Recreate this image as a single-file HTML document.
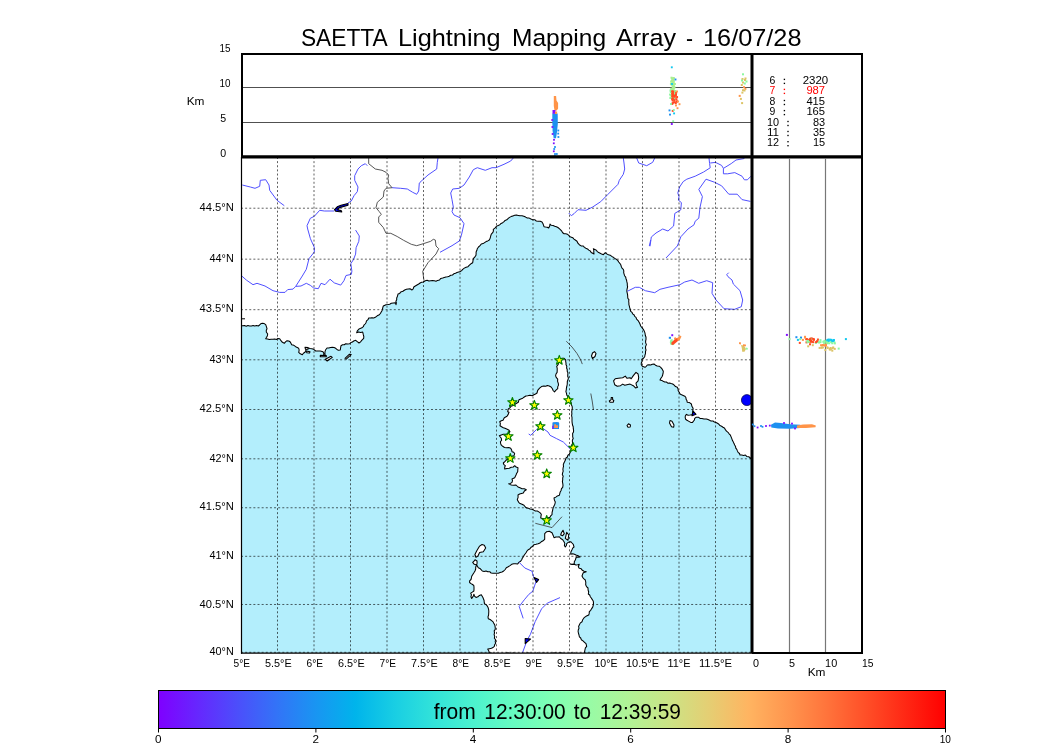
<!DOCTYPE html><html><head><meta charset="utf-8"><style>
html,body{margin:0;padding:0;background:#fff;}
body{width:1050px;height:750px;overflow:hidden;position:relative;font-family:"Liberation Sans",sans-serif;color:#000;}
svg{position:absolute;left:0;top:0;will-change:transform;}
text{font-family:"Liberation Sans",sans-serif;}
</style></head><body>
<svg width="1050" height="750" viewBox="0 0 1050 750">
<defs>
<clipPath id="mapclip"><rect x="241" y="157" width="511" height="496"/></clipPath>
<linearGradient id="cbar" x1="0" x2="1" y1="0" y2="0">
<stop offset="0.000" stop-color="#7f00ff"/>
<stop offset="0.050" stop-color="#6627fe"/>
<stop offset="0.100" stop-color="#4c4efb"/>
<stop offset="0.150" stop-color="#3373f7"/>
<stop offset="0.200" stop-color="#1995f2"/>
<stop offset="0.250" stop-color="#00b4eb"/>
<stop offset="0.300" stop-color="#19cee3"/>
<stop offset="0.350" stop-color="#32e3d9"/>
<stop offset="0.400" stop-color="#4cf2ce"/>
<stop offset="0.450" stop-color="#66fbc1"/>
<stop offset="0.500" stop-color="#7fffb4"/>
<stop offset="0.550" stop-color="#99fba5"/>
<stop offset="0.600" stop-color="#b2f295"/>
<stop offset="0.650" stop-color="#cce385"/>
<stop offset="0.700" stop-color="#e5ce73"/>
<stop offset="0.750" stop-color="#ffb461"/>
<stop offset="0.800" stop-color="#ff954e"/>
<stop offset="0.850" stop-color="#ff733b"/>
<stop offset="0.900" stop-color="#ff4e27"/>
<stop offset="0.950" stop-color="#ff2714"/>
<stop offset="1.000" stop-color="#ff0000"/>
</linearGradient></defs>
<g clip-path="url(#mapclip)">
<rect x="241" y="157" width="511" height="496" fill="#b3eefc"/>
<polygon points="241.0,326.0 242.7,325.8 244.5,325.6 246.2,326.2 247.9,325.5 249.7,326.0 251.4,325.9 253.1,325.5 254.8,326.0 256.6,325.5 258.3,326.0 259.6,325.0 260.7,323.8 262.3,323.3 264.2,323.6 265.7,324.7 266.4,326.7 267.0,328.7 266.3,330.3 266.3,332.0 267.7,334.0 267.4,335.7 266.6,337.3 265.7,338.7 267.5,339.0 269.3,339.5 271.2,339.2 273.0,339.3 274.7,339.0 276.4,339.5 278.0,338.4 279.7,338.7 281.0,340.7 282.4,342.3 284.3,343.3 285.5,341.8 287.0,340.7 288.8,341.0 290.3,342.0 291.7,344.7 293.9,345.3 295.7,346.7 298.3,348.0 299.0,349.0 299.1,350.7 298.7,352.3 300.3,353.8 302.3,354.7 303.4,353.2 305.0,352.3 305.7,350.7 306.3,349.0 308.3,348.0 310.1,348.6 311.9,348.7 313.7,349.3 315.7,351.0 318.0,351.1 320.3,351.0 323.0,351.7 323.8,353.3 323.7,355.0 325.7,356.3 324.9,354.1 325.0,351.7 325.7,349.7 327.0,348.0 328.8,348.0 330.5,347.5 332.3,347.3 334.1,347.6 335.7,348.3 336.9,349.4 338.3,350.3 340.3,350.0 340.6,347.8 341.0,345.7 342.5,344.8 344.3,344.7 345.7,343.7 347.7,343.9 349.7,343.7 350.9,342.6 352.4,342.0 353.7,341.0 355.7,340.3 357.3,341.7 359.0,343.0 360.6,341.9 361.7,340.3 363.7,338.3 363.8,336.5 363.3,334.7 362.7,332.0 360.7,332.5 358.6,331.9 356.7,332.7 357.3,330.8 358.7,329.3 360.2,328.4 361.9,327.8 363.3,326.7 363.9,325.2 365.1,324.0 366.0,322.7 366.5,320.9 368.0,319.7 368.7,318.0 370.4,318.1 372.0,317.7 373.7,317.9 375.3,317.3 377.2,315.8 379.3,314.7 380.4,313.5 381.2,312.1 382.0,310.7 382.5,309.2 382.8,307.6 383.3,306.0 386.0,304.7 387.9,304.6 389.7,304.2 391.3,303.3 393.3,303.0 395.3,302.7 396.0,304.7 396.4,303.0 395.9,301.3 396.7,299.7 396.7,298.0 397.5,296.1 398.0,294.0 399.7,293.4 400.7,292.0 402.9,291.3 404.7,290.0 406.4,289.3 408.2,289.0 410.0,288.7 412.0,290.0 413.2,288.8 413.8,287.0 415.3,286.0 417.0,285.0 418.7,284.0 420.1,283.0 421.6,282.3 423.3,282.0 425.3,280.7 427.1,280.2 428.9,281.0 430.7,280.7 432.5,280.5 434.3,280.8 436.0,281.3 437.6,280.4 439.5,280.0 440.8,278.4 442.7,278.0 444.3,277.4 445.9,277.0 447.6,276.8 449.2,276.2 450.7,275.3 452.5,275.0 453.8,273.8 455.5,273.2 457.0,272.5 458.7,272.0 460.3,271.5 461.6,270.6 462.7,269.3 464.3,268.1 466.1,267.2 468.0,266.7 469.4,265.1 470.9,263.8 472.7,262.7 473.0,260.7 473.3,258.7 474.7,257.1 476.0,255.3 476.1,253.6 476.1,251.9 476.9,250.3 477.3,248.7 478.5,247.0 480.0,245.6 481.3,244.0 483.1,243.6 484.6,242.6 486.1,241.6 487.8,240.9 489.3,240.0 490.2,238.1 490.7,236.0 491.3,234.1 492.7,232.7 493.4,231.1 493.3,229.3 495.2,227.9 496.7,226.0 498.4,225.5 499.9,224.6 501.1,223.4 502.7,222.7 504.0,221.6 505.1,220.4 506.8,219.8 508.0,218.7 509.5,217.4 511.1,216.6 512.9,215.9 514.7,215.3 516.5,215.1 518.2,215.4 520.0,215.7 522.0,215.8 523.8,216.3 525.6,217.1 527.3,218.0 529.2,218.1 530.9,219.0 532.7,219.7 534.7,219.7 536.3,221.0 538.2,221.2 540.2,221.2 542.0,222.0 542.9,223.5 543.5,225.1 544.0,226.7 545.6,227.0 547.2,227.2 548.7,228.0 549.7,226.1 550.0,224.0 551.3,225.3 553.1,225.5 554.7,226.3 556.4,226.7 557.9,227.5 559.3,228.7 560.6,229.9 561.8,231.2 562.7,232.7 564.1,233.7 565.8,233.7 567.4,234.2 568.7,235.3 569.7,236.6 571.3,237.2 572.9,237.8 574.0,239.1 575.3,240.0 577.0,241.2 577.9,243.2 579.3,244.7 581.1,245.9 583.3,246.0 584.4,247.4 585.9,248.3 587.5,248.9 588.8,250.1 590.2,250.9 591.2,252.5 592.7,253.3 594.0,254.0 593.8,252.2 593.8,250.4 593.3,248.7 594.8,249.4 596.3,250.2 597.4,251.6 598.7,252.6 600.2,253.3 601.7,254.1 603.3,254.7 605.3,252.7 606.7,253.9 608.4,254.8 610.2,255.2 611.7,256.4 613.3,257.3 614.8,258.4 616.3,259.3 617.7,260.4 618.7,262.0 619.8,263.3 620.8,264.8 621.3,266.5 622.0,268.1 623.3,269.3 623.8,270.9 623.7,272.6 624.1,274.1 624.6,275.7 625.7,277.1 626.0,278.7 626.6,280.3 626.9,281.9 627.3,283.6 627.3,285.3 627.6,286.9 627.2,288.5 626.9,290.1 626.9,291.7 627.3,293.3 627.6,294.9 627.7,296.5 627.8,298.2 628.9,299.6 628.7,301.3 628.9,303.0 628.9,304.7 629.4,306.4 629.8,308.0 630.4,309.6 630.7,311.3 632.0,312.3 632.6,313.9 634.0,314.8 634.7,316.3 636.0,317.3 636.6,319.2 638.1,320.6 639.1,322.3 640.0,324.0 640.7,326.0 642.0,327.7 643.3,329.3 644.3,331.2 645.0,333.2 645.3,335.3 646.0,337.2 646.0,339.3 645.6,341.1 645.7,342.9 646.4,344.6 645.6,346.4 645.5,348.2 646.0,350.0 645.5,351.6 645.5,353.4 645.0,355.0 644.7,356.7 643.5,358.3 641.8,359.3 642.1,361.2 641.3,363.0 641.3,364.8 642.3,366.3 645.0,367.3 646.3,366.3 647.3,365.0 649.0,364.8 650.7,365.0 652.3,364.2 654.0,364.0 655.5,365.2 657.2,366.0 659.2,366.2 660.7,367.3 662.2,369.2 663.3,371.3 663.1,373.2 662.7,375.0 662.0,376.7 660.9,378.3 660.0,380.0 661.7,380.4 663.2,381.3 664.7,382.0 666.4,382.0 667.8,383.2 669.5,383.0 671.1,383.6 672.7,384.0 674.2,385.2 675.5,386.6 677.3,387.3 678.1,388.9 678.2,390.8 679.3,392.3 680.0,394.0 681.6,394.8 683.2,395.5 684.8,396.2 685.9,397.5 686.1,399.2 686.9,400.6 687.2,402.2 689.5,402.6 691.4,404.0 691.9,406.3 693.1,408.3 692.8,410.9 692.8,412.9 692.0,414.7 690.0,415.0 688.0,415.2 686.4,414.4 685.3,416.0 685.2,417.6 685.6,419.2 687.0,420.2 688.5,421.1 690.7,422.4 692.5,422.4 694.4,420.0 694.7,418.4 696.0,417.3 698.7,417.3 700.0,418.4 702.0,418.5 704.0,419.0 706.4,419.0 708.0,419.6 709.6,420.3 711.1,421.1 713.0,421.0 714.4,422.1 716.0,422.6 717.5,423.3 718.9,424.2 720.0,425.6 721.6,426.2 723.0,427.2 724.4,428.0 725.4,429.6 726.5,431.2 728.0,432.3 729.1,433.8 730.4,435.2 731.1,436.9 731.8,438.6 732.4,440.3 733.3,441.9 734.0,443.6 734.7,445.0 735.5,446.4 735.8,448.1 736.8,449.4 737.4,450.9 738.1,452.4 739.5,453.5 740.0,455.0 741.8,455.1 743.6,455.5 745.4,455.0 746.7,456.4 748.7,456.8 750.2,457.8 751.5,459.2 752.0,157.0 241.0,157.0" fill="#fff" stroke="#000" stroke-width="1.05" stroke-linejoin="round"/>
<polygon points="559.0,358.5 559.0,360.3 558.8,362.0 558.2,364.4 556.7,366.3 557.2,368.4 557.2,370.5 557.1,372.4 556.0,374.0 555.6,375.9 556.4,377.7 557.7,379.1 557.6,381.3 558.3,383.3 558.5,385.1 557.7,386.9 557.7,388.7 556.0,390.2 554.5,391.9 553.1,390.5 552.4,388.7 551.1,387.0 549.2,386.0 547.4,385.5 545.7,386.3 543.9,386.0 541.5,386.6 539.6,388.1 537.7,390.3 537.0,393.0 535.5,394.0 533.9,394.8 532.3,395.7 530.0,395.2 527.7,395.7 525.9,396.0 524.3,397.0 522.7,398.2 520.8,398.9 519.0,399.7 518.3,402.3 516.6,403.3 515.0,404.3 513.1,405.5 511.0,406.3 509.9,407.9 508.3,409.0 507.7,411.7 509.0,412.3 508.2,414.4 507.0,416.3 504.3,417.7 503.0,420.3 501.3,420.8 499.7,421.7 500.4,423.7 500.0,425.7 501.6,426.8 503.3,427.7 505.0,428.3 506.7,429.0 508.7,429.9 510.0,431.7 508.0,433.7 505.7,434.2 503.3,434.3 501.3,434.9 499.3,435.7 500.3,437.0 501.3,438.3 501.6,440.2 500.4,441.8 500.7,443.7 501.4,445.2 502.7,446.3 504.5,447.5 506.7,447.7 508.8,447.6 510.7,448.3 511.6,449.9 512.0,451.7 513.7,452.3 514.7,453.7 514.0,455.7 512.2,456.1 510.7,457.0 509.5,458.1 508.3,459.1 506.7,459.7 505.1,461.4 503.3,463.0 503.9,464.6 505.3,465.7 504.7,467.3 504.7,469.0 507.0,468.4 509.3,468.3 511.2,467.3 513.3,467.0 514.7,465.7 516.1,467.1 518.0,467.7 517.8,469.7 517.7,471.7 516.7,473.2 516.0,475.0 514.7,477.7 512.0,479.0 512.5,480.6 512.0,482.3 510.5,483.4 508.7,483.7 511.3,485.0 513.6,485.2 516.0,485.0 518.0,487.0 520.0,487.8 522.0,488.7 524.3,488.7 526.3,489.7 524.4,491.0 523.3,493.0 521.5,493.5 519.6,494.0 518.0,495.0 518.1,497.4 517.3,499.7 518.7,502.3 520.1,503.6 522.0,504.3 524.0,505.3 525.3,507.0 526.7,508.0 528.5,508.3 530.0,509.0 531.9,509.3 533.6,510.1 535.4,511.0 537.3,511.0 538.8,511.9 540.2,512.9 541.3,514.3 541.0,516.1 540.7,518.0 542.6,518.4 544.4,518.9 546.0,520.0 547.1,518.8 548.4,517.8 550.0,517.3 550.7,515.8 552.0,514.7 552.1,512.3 552.7,510.0 553.1,507.9 554.0,506.0 554.9,504.1 555.3,502.0 554.4,500.1 554.0,498.0 555.8,497.1 557.4,495.9 559.3,495.3 559.8,493.6 560.2,491.9 561.1,490.4 561.5,488.7 562.7,487.3 563.0,485.4 562.8,483.6 562.4,481.7 562.7,479.9 562.7,478.0 563.2,476.2 562.3,474.5 562.7,472.7 563.2,471.1 562.9,469.5 563.1,467.9 563.5,466.3 563.3,464.7 563.9,463.0 564.7,461.4 565.5,459.8 566.0,458.0 567.4,457.0 567.9,455.2 569.3,454.2 570.0,452.7 570.7,451.2 571.0,449.6 571.2,448.0 571.6,446.4 571.8,444.7 572.7,443.3 572.4,441.7 572.4,440.0 573.2,438.4 572.7,436.8 572.7,435.2 572.6,433.5 573.5,432.0 573.6,430.3 573.3,428.7 573.2,426.8 572.5,425.0 572.2,423.1 572.0,421.2 572.0,419.3 572.0,417.4 571.6,415.6 571.9,413.7 571.7,411.9 572.0,410.0 572.3,408.3 572.2,406.6 571.5,405.0 571.3,403.3 570.6,401.4 570.5,399.3 569.7,397.6 567.9,396.6 566.8,395.1 566.5,393.3 565.9,391.6 566.3,389.7 566.4,388.1 566.8,386.5 567.1,384.9 567.3,383.3 567.3,381.5 568.0,379.8 568.4,378.0 567.7,376.3 567.8,374.5 567.9,372.7 567.2,371.2 567.2,369.5 566.6,368.0 566.8,366.3 566.0,364.8 566.0,363.1 565.7,361.5 565.7,359.9 564.1,358.3 562.4,358.3 560.7,358.4" fill="#fff" stroke="#000" stroke-width="1.05" stroke-linejoin="round"/>
<polygon points="489.3,653.5 489.3,652.9 488.8,650.9 487.7,649.1 489.5,648.7 491.4,648.3 493.1,647.5 494.3,646.3 494.7,644.6 495.7,643.3 495.2,641.6 495.6,639.8 494.4,638.2 494.7,636.4 494.1,634.7 494.5,632.9 494.2,630.9 495.3,629.2 495.2,627.3 494.9,625.3 493.9,623.6 493.1,621.9 491.6,620.6 490.1,619.5 488.3,618.7 488.0,616.8 488.6,615.0 488.7,613.2 488.8,611.3 488.6,609.4 488.1,607.6 487.2,605.9 486.1,604.6 484.5,603.8 484.2,602.2 484.1,600.5 483.5,599.0 482.9,597.4 481.3,594.7 479.4,595.4 477.9,596.8 476.0,597.4 474.5,596.1 473.9,594.2 473.5,595.8 472.6,597.1 471.7,598.5 470.9,596.8 471.4,594.8 470.7,593.1 472.3,592.1 473.9,591.0 474.0,589.2 474.0,587.5 473.9,585.7 472.6,584.5 471.0,583.6 469.6,582.5 469.6,580.8 471.0,579.5 471.4,577.9 471.7,576.3 472.8,574.5 473.9,572.8 475.0,571.0 475.7,569.0 475.7,566.9 476.7,565.0 474.3,564.3 472.7,562.3 474.0,561.2 475.0,559.7 477.0,561.0 477.1,563.0 476.7,565.0 478.3,567.7 479.9,568.4 481.1,569.7 482.3,571.0 484.1,571.4 486.0,571.0 487.8,571.8 489.7,571.7 491.1,573.0 493.0,573.3 494.8,573.3 496.5,573.2 498.3,573.3 500.1,572.5 502.0,572.0 503.7,571.0 505.2,569.5 506.3,567.7 508.2,566.7 510.0,565.6 511.7,564.3 513.7,563.7 515.7,563.7 517.7,564.0 518.8,562.4 520.6,561.3 521.7,559.7 522.4,558.0 523.5,556.6 524.3,555.0 526.0,552.7 527.0,551.0 528.3,549.7 530.0,548.7 531.2,547.2 532.8,546.2 534.0,544.7 536.1,544.3 538.1,543.8 540.0,543.0 541.2,541.8 542.7,541.0 544.7,539.3 544.7,537.4 544.7,535.6 544.7,533.7 546.7,531.7 549.3,531.3 552.0,532.7 552.7,534.2 553.3,535.7 554.0,537.7 555.9,536.9 558.0,537.0 559.3,536.7 560.7,538.5 562.7,539.7 564.0,541.7 564.8,543.4 564.4,545.4 565.3,547.0 566.4,545.5 566.7,543.7 568.5,542.2 570.7,541.7 572.0,543.0 573.3,544.3 574.0,547.0 572.7,548.1 572.0,549.7 570.9,551.9 570.7,554.3 572.7,553.7 574.4,554.3 576.0,555.0 578.1,555.8 580.0,557.0 578.1,557.3 576.3,557.0 575.3,560.0 574.3,561.7 574.3,563.7 572.2,564.2 570.0,564.0 572.0,564.4 574.1,564.3 576.0,565.0 577.7,564.7 579.3,564.3 578.3,566.7 579.2,568.2 581.0,568.6 582.0,570.0 584.0,571.2 586.3,571.7 583.3,572.7 582.6,574.3 582.0,576.0 582.8,577.6 584.0,578.8 585.3,580.0 585.8,582.3 585.7,584.7 586.5,586.6 588.0,588.0 588.1,590.0 588.7,592.0 588.3,594.0 589.7,595.0 590.3,596.7 591.3,598.0 592.3,599.6 593.3,601.3 593.5,603.1 593.3,605.0 592.8,606.9 591.7,608.6 590.7,610.3 589.3,611.7 589.2,613.4 588.7,615.0 586.0,616.3 584.1,617.7 582.7,619.7 582.0,621.8 580.2,623.1 579.3,625.0 578.6,626.5 579.0,628.2 578.3,629.7 578.1,631.5 578.5,633.3 579.0,635.0 579.4,636.8 580.7,638.0 581.3,639.7 583.0,640.9 584.5,642.3 586.0,643.7 586.7,646.3 585.4,647.8 585.0,649.7 584.6,651.6 584.3,653.5 582.7,653.7 581.1,653.6 579.5,653.7 577.9,654.0 576.2,653.9 574.6,653.1 573.0,653.7 571.4,653.0 569.8,653.8 568.2,653.8 566.6,653.5 565.0,653.8 563.4,653.6 561.8,653.0 560.1,653.1 558.5,653.2 556.9,653.4 555.3,653.0 553.7,653.0 552.1,653.4 550.5,653.3 548.9,654.0 547.3,653.2 545.7,653.6 544.0,653.2 542.4,653.3 540.8,653.7 539.2,654.0 537.6,653.0 536.0,653.9 534.4,653.5 532.8,653.7 531.2,653.7 529.6,653.2 527.9,653.0 526.3,653.8 524.7,653.3 523.1,653.7 521.5,653.4 519.9,653.6 518.3,653.9 516.7,653.9 515.1,653.8 513.5,653.1 511.8,653.5 510.2,653.8 508.6,653.1 507.0,653.0 505.4,653.6 503.8,653.9 502.2,653.8 500.6,654.0 499.0,653.7 497.4,653.9 495.7,653.8 494.1,653.8 492.5,653.4 490.9,653.1" fill="#fff" stroke="#000" stroke-width="1.05" stroke-linejoin="round"/>
<polygon points="479.6,546.1 482.0,544.5 484.3,545.2 485.7,548.0 483.3,551.7 479.6,552.6 477.7,556.4 475.9,557.3 474.9,554.5 476.8,550.8" fill="#fff" stroke="#000" stroke-width="1.05" stroke-linejoin="round"/>
<polygon points="613.6,380.9 615.2,378.8 618.4,378.3 622.7,377.7 625.3,376.1 626.9,378.3 630.1,377.7 631.2,378.8 633.3,375.6 636.0,372.4 638.1,374.0 638.7,377.7 638.1,380.9 636.0,383.1 636.5,385.7 637.6,387.3 635.5,387.9 633.3,385.7 630.1,384.1 626.9,384.7 624.8,385.2 622.7,384.1 620.5,385.7 617.3,386.3 614.7,384.7" fill="#fff" stroke="#000" stroke-width="1.05" stroke-linejoin="round"/>
<polygon points="594.5,351.6 596.0,353.5 595.0,356.5 592.5,358.5 591.5,356.0 592.5,353.0" fill="#fff" stroke="#000" stroke-width="1.05" stroke-linejoin="round"/>
<polygon points="611.2,397.5 612.6,397.5 612.6,399.6 613.8,400.5 613.2,402.3 610.0,402.3 609.3,401.0 611.2,399.6" fill="#fff" stroke="#000" stroke-width="1.05" stroke-linejoin="round"/>
<polygon points="628.5,423.8 630.5,425.0 630.2,427.0 628.0,427.3 627.0,425.5" fill="#fff" stroke="#000" stroke-width="1.05" stroke-linejoin="round"/>
<polygon points="670.0,420.5 672.0,421.2 674.0,425.0 673.7,427.3 671.5,426.8 669.5,423.0" fill="#fff" stroke="#000" stroke-width="1.05" stroke-linejoin="round"/>
<polygon points="305.0,347.3 308.0,347.5 308.0,349.3 305.5,349.3" fill="#fff" stroke="#000" stroke-width="1.05" stroke-linejoin="round"/>
<polygon points="306.5,351.0 310.0,351.8 309.5,353.0 306.8,352.8" fill="#fff" stroke="#000" stroke-width="1.05" stroke-linejoin="round"/>
<polygon points="320.3,355.3 326.3,355.5 326.3,356.7 320.3,356.7" fill="#fff" stroke="#000" stroke-width="1.05" stroke-linejoin="round"/>
<polygon points="325.3,359.3 327.2,361.0 332.3,357.3 331.0,356.3" fill="#fff" stroke="#000" stroke-width="1.05" stroke-linejoin="round"/>
<polygon points="345.0,358.3 346.2,359.2 351.2,354.6 349.5,354.2" fill="#fff" stroke="#000" stroke-width="1.05" stroke-linejoin="round"/>
<polygon points="563.0,530.3 564.3,533.7 562.7,535.7 560.7,535.0 561.3,533.0" fill="#fff" stroke="#000" stroke-width="1.05" stroke-linejoin="round"/>
<polygon points="566.7,532.3 568.7,535.0 568.0,540.3 565.3,538.3" fill="#fff" stroke="#000" stroke-width="1.05" stroke-linejoin="round"/>
<polyline points="242.3,185.0 250.3,187.0 255.0,188.3 259.7,186.3 260.3,180.3 265.7,179.7 269.0,185.0 269.7,190.3 277.0,200.3 284.3,205.7" fill="none" stroke="#5050ff" stroke-width="1" stroke-linejoin="round"/>
<polyline points="311.0,240.0 310.3,238.3 307.7,229.0 307.0,225.7 310.3,218.3 314.3,216.3 319.7,210.3 324.3,211.0 334.3,211.0" fill="none" stroke="#5050ff" stroke-width="1" stroke-linejoin="round"/>
<polyline points="348.0,203.0 351.3,201.0 354.0,195.7 357.3,191.7 358.0,187.0 354.7,180.3 354.7,175.7 358.0,169.0 361.3,165.7 365.3,163.7 367.3,165.7" fill="none" stroke="#5050ff" stroke-width="1" stroke-linejoin="round"/>
<polyline points="392.0,187.7 400.7,188.3 407.3,189.0 412.7,192.3 416.7,194.3 418.7,191.0 419.3,183.0 420.0,182.3 428.0,175.0 436.7,169.0 437.3,162.3 438.0,158.0" fill="none" stroke="#5050ff" stroke-width="1" stroke-linejoin="round"/>
<polyline points="355.6,230.1 359.3,236.0 358.8,241.3 356.1,247.7 355.6,254.1 353.5,259.5 350.8,263.7 351.9,271.2 351.3,274.4 346.0,275.5 343.9,280.8 340.7,285.1 334.3,282.9 330.0,279.2 325.0,284.7 321.0,283.3 318.3,288.7 313.7,288.0 310.3,285.3 306.3,283.3 301.0,286.0 295.7,286.4 293.0,289.1 287.7,289.6 285.0,292.4 279.7,292.4 273.0,290.7 265.0,286.0 257.0,283.3 253.0,284.7 246.3,280.0 241.0,275.3" fill="none" stroke="#5050ff" stroke-width="1" stroke-linejoin="round"/>
<polyline points="295.7,286.4 302.3,276.0 306.3,269.3 309.0,258.7 314.3,252.0 314.3,247.3 311.0,240.0" fill="none" stroke="#5050ff" stroke-width="1" stroke-linejoin="round"/>
<polyline points="440.0,252.3 452.0,245.7 459.3,241.0 461.3,235.7 464.0,223.7 460.0,217.7 454.0,215.0 452.0,211.7 453.3,207.0 452.0,199.7 450.7,193.0 452.7,189.0 459.3,188.3 464.0,185.0 469.3,177.0 473.3,169.7 477.3,167.7 485.3,170.3 492.0,167.7 496.0,167.7 504.0,164.3 510.7,161.0 513.3,158.0" fill="none" stroke="#5050ff" stroke-width="1" stroke-linejoin="round"/>
<polyline points="568.7,213.0 571.3,215.7 574.0,213.7 578.0,209.7 586.0,210.3 592.7,207.0 600.7,201.7 608.0,194.3 618.0,184.3 619.3,180.3 623.3,174.3 624.7,169.0 624.0,163.0 623.3,158.0" fill="none" stroke="#5050ff" stroke-width="1" stroke-linejoin="round"/>
<polyline points="636.7,158.0 638.7,163.0 646.7,165.7 652.7,162.3 654.7,158.0" fill="none" stroke="#5050ff" stroke-width="1" stroke-linejoin="round"/>
<polyline points="650.0,246.3 651.3,237.0 656.0,233.0 662.7,229.0 668.0,231.0 673.6,226.0 674.8,213.4 680.8,209.8 681.4,202.6 678.4,200.2 679.0,196.6 677.8,193.0 679.6,187.0 683.2,181.6 686.8,179.2 695.2,176.2 703.6,172.0 710.2,167.8 709.6,163.6 709.0,158.0" fill="none" stroke="#5050ff" stroke-width="1" stroke-linejoin="round"/>
<polyline points="710.2,163.0 715.6,162.4 721.6,165.4 723.4,168.4 723.4,173.8 727.6,173.8 734.8,172.6 742.0,176.2 744.4,179.8 747.4,179.8 751.0,176.2" fill="none" stroke="#5050ff" stroke-width="1" stroke-linejoin="round"/>
<polyline points="723.4,168.4 731.2,163.6 736.0,160.0 744.4,158.5" fill="none" stroke="#5050ff" stroke-width="1" stroke-linejoin="round"/>
<polyline points="680.8,236.8 688.0,229.0 694.0,224.8 695.2,221.2 698.8,218.2 700.0,207.4 702.4,196.6 698.8,189.4 706.0,179.2 714.4,182.2 721.6,185.8 728.8,194.2 737.2,194.2 742.0,199.6 750.4,201.4" fill="none" stroke="#5050ff" stroke-width="1" stroke-linejoin="round"/>
<polyline points="666.0,258.0 677.3,246.0 678.7,242.7 680.8,236.8" fill="none" stroke="#5050ff" stroke-width="1" stroke-linejoin="round"/>
<polyline points="649.3,246.0 650.7,240.0" fill="none" stroke="#5050ff" stroke-width="1" stroke-linejoin="round"/>
<polyline points="627.3,291.3 635.3,287.3 639.3,287.3 645.3,290.7 654.7,292.7 660.0,289.3 668.0,287.3 680.0,284.7 684.7,282.0 692.0,280.0 698.7,283.3 706.7,280.7 712.7,282.7 712.0,293.3 716.0,300.0 724.0,308.7 734.7,309.3 741.3,306.7 742.7,300.0 740.0,290.7 733.3,284.0 732.0,280.0 728.0,276.7 726.7,274.7 728.7,272.7" fill="none" stroke="#5050ff" stroke-width="1" stroke-linejoin="round"/>
<polyline points="528.7,434.0 530.7,435.3 536.7,429.3 543.3,428.7 548.0,432.0 550.0,435.3 556.7,438.7 563.3,442.0 570.0,448.7" fill="none" stroke="#5050ff" stroke-width="1" stroke-linejoin="round"/>
<polyline points="519.2,562.4 524.8,568.0 532.0,571.2 533.6,576.8 536.0,581.6 532.8,591.2 528.8,594.4 524.8,599.2 519.2,606.4 523.2,618.4" fill="none" stroke="#5050ff" stroke-width="1" stroke-linejoin="round"/>
<polyline points="560.0,597.6 547.2,603.2 541.6,608.8 535.2,621.6 530.4,634.4 527.2,640.0 522.4,653.0" fill="none" stroke="#5050ff" stroke-width="1" stroke-linejoin="round"/>
<polyline points="368.7,158.0 368.7,163.7 375.3,169.0 382.0,170.3 386.0,172.3 388.7,175.0 388.0,178.3 388.7,183.7 392.0,187.7 386.0,188.3 384.0,191.0 383.3,197.0 377.3,202.3 376.0,207.7 379.3,211.7 381.3,214.3 378.7,217.0 378.7,222.3 383.3,227.5 386.0,233.3 390.8,233.3 397.2,236.5 403.6,240.3 411.3,244.3 416.7,245.7 423.3,243.7 430.7,241.3 433.3,239.3 435.3,240.0 436.0,246.0 438.7,248.7 436.0,254.0 428.0,262.7 422.7,271.3 424.0,280.7" fill="none" stroke="#444" stroke-width="0.9" stroke-linejoin="round"/>
<polyline points="566.3,341.2 572.0,347.0 577.0,353.5 580.5,359.5 582.3,364.1" fill="none" stroke="#333" stroke-width="0.8"/>
<polyline points="590.8,393.5 592.2,401.0 593.5,410.0" fill="none" stroke="#333" stroke-width="0.8"/>
<polyline points="535.3,523.3 552.0,527.6 562.0,516.7" fill="none" stroke="#333" stroke-width="0.8"/>
<line x1="241" y1="318.8" x2="245" y2="318.8" stroke="#000" stroke-width="1"/>
<polygon points="348,203.5 341,205.2 337.2,206.8 334.5,209.6 335.8,211.3 341.8,212 341.2,210.6 337.5,209.8 339.5,207.6 348,205.3" fill="#0000ee" stroke="#000" stroke-width="1.1" stroke-linejoin="round"/>
<polygon points="693.1,411.2 696.0,414.3 692.0,415.7" fill="#0000ff" stroke="#000" stroke-width="1.1" stroke-linejoin="round"/>
<polygon points="534.1,577.5 538.6,579.6 536.5,582.3" fill="#0000ff" stroke="#000" stroke-width="1.1" stroke-linejoin="round"/>
<polygon points="525.2,638.5 530.5,639.1 525.2,643.6" fill="#0000ff" stroke="#000" stroke-width="1.1" stroke-linejoin="round"/>
<line x1="277.5" y1="157" x2="277.5" y2="653" stroke="#000" stroke-width="1" stroke-dasharray="2,2.13" opacity="0.62"/>
<line x1="314.0" y1="157" x2="314.0" y2="653" stroke="#000" stroke-width="1" stroke-dasharray="2,2.13" opacity="0.62"/>
<line x1="350.5" y1="157" x2="350.5" y2="653" stroke="#000" stroke-width="1" stroke-dasharray="2,2.13" opacity="0.62"/>
<line x1="387.0" y1="157" x2="387.0" y2="653" stroke="#000" stroke-width="1" stroke-dasharray="2,2.13" opacity="0.62"/>
<line x1="423.5" y1="157" x2="423.5" y2="653" stroke="#000" stroke-width="1" stroke-dasharray="2,2.13" opacity="0.62"/>
<line x1="460.0" y1="157" x2="460.0" y2="653" stroke="#000" stroke-width="1" stroke-dasharray="2,2.13" opacity="0.62"/>
<line x1="496.5" y1="157" x2="496.5" y2="653" stroke="#000" stroke-width="1" stroke-dasharray="2,2.13" opacity="0.62"/>
<line x1="533.0" y1="157" x2="533.0" y2="653" stroke="#000" stroke-width="1" stroke-dasharray="2,2.13" opacity="0.62"/>
<line x1="569.5" y1="157" x2="569.5" y2="653" stroke="#000" stroke-width="1" stroke-dasharray="2,2.13" opacity="0.62"/>
<line x1="606.0" y1="157" x2="606.0" y2="653" stroke="#000" stroke-width="1" stroke-dasharray="2,2.13" opacity="0.62"/>
<line x1="642.5" y1="157" x2="642.5" y2="653" stroke="#000" stroke-width="1" stroke-dasharray="2,2.13" opacity="0.62"/>
<line x1="679.0" y1="157" x2="679.0" y2="653" stroke="#000" stroke-width="1" stroke-dasharray="2,2.13" opacity="0.62"/>
<line x1="715.5" y1="157" x2="715.5" y2="653" stroke="#000" stroke-width="1" stroke-dasharray="2,2.13" opacity="0.62"/>
<line x1="241" y1="652.30" x2="752" y2="652.30" stroke="#000" stroke-width="1" stroke-dasharray="2,2.13" opacity="0.62"/>
<line x1="241" y1="604.48" x2="752" y2="604.48" stroke="#000" stroke-width="1" stroke-dasharray="2,2.13" opacity="0.62"/>
<line x1="241" y1="556.30" x2="752" y2="556.30" stroke="#000" stroke-width="1" stroke-dasharray="2,2.13" opacity="0.62"/>
<line x1="241" y1="507.75" x2="752" y2="507.75" stroke="#000" stroke-width="1" stroke-dasharray="2,2.13" opacity="0.62"/>
<line x1="241" y1="458.82" x2="752" y2="458.82" stroke="#000" stroke-width="1" stroke-dasharray="2,2.13" opacity="0.62"/>
<line x1="241" y1="409.51" x2="752" y2="409.51" stroke="#000" stroke-width="1" stroke-dasharray="2,2.13" opacity="0.62"/>
<line x1="241" y1="359.81" x2="752" y2="359.81" stroke="#000" stroke-width="1" stroke-dasharray="2,2.13" opacity="0.62"/>
<line x1="241" y1="309.69" x2="752" y2="309.69" stroke="#000" stroke-width="1" stroke-dasharray="2,2.13" opacity="0.62"/>
<line x1="241" y1="259.17" x2="752" y2="259.17" stroke="#000" stroke-width="1" stroke-dasharray="2,2.13" opacity="0.62"/>
<line x1="241" y1="208.21" x2="752" y2="208.21" stroke="#000" stroke-width="1" stroke-dasharray="2,2.13" opacity="0.62"/>
</g>
<line x1="241.5" y1="157" x2="241.5" y2="653.8" stroke="#000" stroke-width="1.2"/>
<line x1="241" y1="653.2" x2="752" y2="653.2" stroke="#000" stroke-width="1.3"/>
<path d="M559.30,355.40 L560.48,358.68 L563.96,358.79 L561.20,360.92 L562.18,364.26 L559.30,362.30 L556.42,364.26 L557.40,360.92 L554.64,358.79 L558.12,358.68Z" fill="#ffff00" stroke="#008000" stroke-width="1.1" stroke-linejoin="round"/>
<path d="M568.40,395.40 L569.58,398.68 L573.06,398.79 L570.30,400.92 L571.28,404.26 L568.40,402.30 L565.52,404.26 L566.50,400.92 L563.74,398.79 L567.22,398.68Z" fill="#ffff00" stroke="#008000" stroke-width="1.1" stroke-linejoin="round"/>
<path d="M512.40,397.50 L513.58,400.78 L517.06,400.89 L514.30,403.02 L515.28,406.36 L512.40,404.40 L509.52,406.36 L510.50,403.02 L507.74,400.89 L511.22,400.78Z" fill="#ffff00" stroke="#008000" stroke-width="1.1" stroke-linejoin="round"/>
<path d="M534.40,400.40 L535.58,403.68 L539.06,403.79 L536.30,405.92 L537.28,409.26 L534.40,407.30 L531.52,409.26 L532.50,405.92 L529.74,403.79 L533.22,403.68Z" fill="#ffff00" stroke="#008000" stroke-width="1.1" stroke-linejoin="round"/>
<path d="M557.30,410.40 L558.48,413.68 L561.96,413.79 L559.20,415.92 L560.18,419.26 L557.30,417.30 L554.42,419.26 L555.40,415.92 L552.64,413.79 L556.12,413.68Z" fill="#ffff00" stroke="#008000" stroke-width="1.1" stroke-linejoin="round"/>
<path d="M540.40,421.50 L541.58,424.78 L545.06,424.89 L542.30,427.02 L543.28,430.36 L540.40,428.40 L537.52,430.36 L538.50,427.02 L535.74,424.89 L539.22,424.78Z" fill="#ffff00" stroke="#008000" stroke-width="1.1" stroke-linejoin="round"/>
<path d="M508.40,431.50 L509.58,434.78 L513.06,434.89 L510.30,437.02 L511.28,440.36 L508.40,438.40 L505.52,440.36 L506.50,437.02 L503.74,434.89 L507.22,434.78Z" fill="#ffff00" stroke="#008000" stroke-width="1.1" stroke-linejoin="round"/>
<path d="M573.30,442.80 L574.48,446.08 L577.96,446.19 L575.20,448.32 L576.18,451.66 L573.30,449.70 L570.42,451.66 L571.40,448.32 L568.64,446.19 L572.12,446.08Z" fill="#ffff00" stroke="#008000" stroke-width="1.1" stroke-linejoin="round"/>
<path d="M537.30,450.40 L538.48,453.68 L541.96,453.79 L539.20,455.92 L540.18,459.26 L537.30,457.30 L534.42,459.26 L535.40,455.92 L532.64,453.79 L536.12,453.68Z" fill="#ffff00" stroke="#008000" stroke-width="1.1" stroke-linejoin="round"/>
<path d="M510.30,453.50 L511.48,456.78 L514.96,456.89 L512.20,459.02 L513.18,462.36 L510.30,460.40 L507.42,462.36 L508.40,459.02 L505.64,456.89 L509.12,456.78Z" fill="#ffff00" stroke="#008000" stroke-width="1.1" stroke-linejoin="round"/>
<path d="M546.70,468.90 L547.88,472.18 L551.36,472.29 L548.60,474.42 L549.58,477.76 L546.70,475.80 L543.82,477.76 L544.80,474.42 L542.04,472.29 L545.52,472.18Z" fill="#ffff00" stroke="#008000" stroke-width="1.1" stroke-linejoin="round"/>
<path d="M546.70,515.50 L547.88,518.78 L551.36,518.89 L548.60,521.02 L549.58,524.36 L546.70,522.40 L543.82,524.36 L544.80,521.02 L542.04,518.89 L545.52,518.78Z" fill="#ffff00" stroke="#008000" stroke-width="1.1" stroke-linejoin="round"/>
<rect x="553" y="423" width="5.5" height="5.5" fill="#ff9040" stroke="#3070e0" stroke-width="1"/>
<circle cx="746.9" cy="400.1" r="5.5" fill="#0000ff" stroke="#000040" stroke-width="0.7"/>
<polygon points="671.3,334.2 673.2,334.2 673.2,336.2 671.3,336.2" fill="#8010ff" opacity="1"/>
<polygon points="668.8,336.8 671.0,336.8 671.0,338.8 668.8,338.8" fill="#1e90f0" opacity="1"/>
<polygon points="670.5,339.5 672.5,339.0 673.0,342.5 674.5,344.3 673.0,345.3 670.2,344.5 669.8,342.0" fill="#8cf8a0" opacity="1"/>
<polygon points="671.5,342.5 675.5,338.5 678.0,337.8 678.5,340.5 675.0,343.5 673.0,345.0 671.3,344.5" fill="#ff4a22" opacity="1"/>
<polygon points="677.0,338.5 680.0,335.5 681.5,336.5 680.0,339.5 677.8,341.0" fill="#ff9448" opacity="1"/>
<polygon points="674.0,337.8 676.0,337.3 676.2,339.2 674.2,339.6" fill="#ff9448" opacity="1"/>
<polygon points="553.0,422.5 557.0,421.9 559.2,423.0 559.2,426.5 558.2,429.0 553.5,429.0 552.8,425.0" fill="#1e90f0" opacity="1"/>
<polygon points="554.2,424.2 556.0,424.2 556.0,425.3 558.1,425.3 558.1,427.9 554.2,427.9" fill="#ff9448" opacity="1"/>
<polygon points="552.0,425.8 553.6,425.8 553.6,429.0 552.0,429.0" fill="#8010ff" opacity="0.8"/>
<polygon points="739.0,342.3 740.8,342.3 741.0,344.5 739.0,344.0" fill="#ff9448" opacity="1"/>
<polygon points="741.0,345.0 744.0,345.5 746.0,349.0 744.5,351.8 742.2,351.8 741.8,348.0" fill="#dcc466" opacity="1"/>
<polygon points="743.0,344.3 745.8,344.5 746.0,346.3 743.0,346.3" fill="#ff9448" opacity="1"/>
<polygon points="745.8,347.5 747.8,348.0 747.6,349.8 745.8,349.5" fill="#8cf8a0" opacity="1"/>
<line x1="242" y1="87.5" x2="751" y2="87.5" stroke="#505050" stroke-width="1"/>
<line x1="242" y1="122.5" x2="751" y2="122.5" stroke="#505050" stroke-width="1"/>
<polygon points="553.8,95.9 556.1,95.9 556.5,100.5 558.1,103.0 558.1,108.5 556.8,110.5 554.5,110.5 553.8,106.0" fill="#ff9448" opacity="1"/>
<polygon points="552.3,113.5 557.7,113.5 557.8,124.0 557.0,132.0 556.0,138.3 553.7,138.3 552.6,131.0 552.3,121.0" fill="#1e90f0" opacity="1"/>
<polygon points="552.5,110.0 555.5,110.0 555.5,113.8 552.5,113.8" fill="#8010ff" opacity="1"/>
<polygon points="555.0,111.5 557.2,111.5 557.0,114.0 555.0,114.0" fill="#ff9448" opacity="1"/>
<rect x="557.40" y="129.60" width="1.8" height="1.8" fill="#1e90f0"/>
<rect x="557.30" y="132.70" width="1.8" height="1.8" fill="#1e90f0"/>
<rect x="557.50" y="136.10" width="1.8" height="1.8" fill="#1e90f0"/>
<rect x="553.10" y="138.90" width="1.8" height="1.8" fill="#8010ff"/>
<rect x="552.90" y="142.40" width="1.8" height="1.8" fill="#8010ff"/>
<rect x="554.10" y="146.10" width="1.8" height="1.8" fill="#1e90f0"/>
<rect x="553.30" y="148.10" width="1.8" height="1.8" fill="#1e90f0"/>
<rect x="552.90" y="150.40" width="1.8" height="1.8" fill="#8010ff"/>
<rect x="554.10" y="153.10" width="1.8" height="1.8" fill="#1e90f0"/>
<rect x="555.90" y="153.10" width="1.8" height="1.8" fill="#1e90f0"/>
<rect x="553.90" y="155.30" width="1.8" height="1.8" fill="#1e90f0"/>
<rect x="551.30" y="119.10" width="1.8" height="1.8" fill="#8010ff"/>
<rect x="551.50" y="126.10" width="1.8" height="1.8" fill="#8010ff"/>
<rect x="551.70" y="133.10" width="1.8" height="1.8" fill="#8010ff"/>
<polygon points="671.5,78.5 674.0,78.0 674.8,81.0 674.5,90.5 671.8,90.5" fill="#a8ee90" opacity="1"/>
<rect x="671.79" y="84.34" width="2" height="2" fill="#a8ee90"/>
<rect x="673.87" y="83.02" width="2" height="2" fill="#a8ee90"/>
<rect x="672.03" y="84.72" width="2" height="2" fill="#a8ee90"/>
<rect x="670.61" y="83.67" width="2" height="2" fill="#a8ee90"/>
<rect x="672.57" y="87.60" width="2" height="2" fill="#a8ee90"/>
<rect x="670.21" y="80.75" width="2" height="2" fill="#a8ee90"/>
<rect x="670.20" y="87.84" width="2" height="2" fill="#a8ee90"/>
<rect x="672.85" y="77.09" width="2" height="2" fill="#a8ee90"/>
<rect x="674.12" y="90.01" width="2" height="2" fill="#a8ee90"/>
<rect x="672.68" y="85.12" width="2" height="2" fill="#a8ee90"/>
<rect x="670.49" y="76.71" width="2" height="2" fill="#a8ee90"/>
<rect x="672.12" y="77.33" width="2" height="2" fill="#a8ee90"/>
<rect x="670.64" y="79.89" width="2" height="2" fill="#a8ee90"/>
<rect x="669.93" y="83.00" width="2" height="2" fill="#a8ee90"/>
<rect x="671.74" y="88.29" width="2" height="2" fill="#a8ee90"/>
<rect x="672.08" y="85.46" width="2" height="2" fill="#a8ee90"/>
<rect x="672.00" y="85.77" width="2" height="2" fill="#a8ee90"/>
<rect x="671.81" y="80.39" width="2" height="2" fill="#a8ee90"/>
<rect x="674.19" y="90.44" width="2" height="2" fill="#a8ee90"/>
<rect x="673.50" y="86.41" width="2" height="2" fill="#a8ee90"/>
<rect x="671.19" y="79.72" width="2" height="2" fill="#a8ee90"/>
<rect x="671.07" y="77.48" width="2" height="2" fill="#a8ee90"/>
<polygon points="673.5,92.5 675.8,93.5 675.5,101.0 673.5,102.0 672.6,97.0" fill="#ff4a22" opacity="1"/>
<rect x="672.18" y="91.80" width="2" height="2" fill="#8cf8a0"/>
<rect x="672.46" y="91.64" width="2" height="2" fill="#8cf8a0"/>
<rect x="672.85" y="97.17" width="2" height="2" fill="#8cf8a0"/>
<rect x="669.50" y="89.52" width="2" height="2" fill="#8cf8a0"/>
<rect x="672.69" y="92.64" width="2" height="2" fill="#8cf8a0"/>
<rect x="672.93" y="91.77" width="2" height="2" fill="#8cf8a0"/>
<rect x="669.76" y="94.55" width="2" height="2" fill="#8cf8a0"/>
<rect x="672.22" y="90.24" width="2" height="2" fill="#8cf8a0"/>
<rect x="669.81" y="90.99" width="2" height="2" fill="#8cf8a0"/>
<rect x="672.87" y="96.10" width="2" height="2" fill="#8cf8a0"/>
<rect x="671.18" y="92.83" width="2" height="2" fill="#ff4a22"/>
<rect x="671.09" y="90.31" width="2" height="2" fill="#ff4a22"/>
<rect x="675.12" y="91.90" width="2" height="2" fill="#ff4a22"/>
<rect x="673.74" y="95.54" width="2" height="2" fill="#ff4a22"/>
<rect x="671.61" y="99.38" width="2" height="2" fill="#ff4a22"/>
<rect x="671.26" y="98.19" width="2" height="2" fill="#ff4a22"/>
<rect x="671.18" y="95.18" width="2" height="2" fill="#ff4a22"/>
<rect x="671.73" y="93.14" width="2" height="2" fill="#ff4a22"/>
<rect x="676.13" y="100.35" width="2" height="2" fill="#ff4a22"/>
<rect x="672.26" y="101.45" width="2" height="2" fill="#ff4a22"/>
<rect x="671.72" y="94.82" width="2" height="2" fill="#ff4a22"/>
<rect x="675.46" y="98.16" width="2" height="2" fill="#ff4a22"/>
<rect x="671.08" y="102.86" width="2" height="2" fill="#ff4a22"/>
<rect x="671.74" y="92.99" width="2" height="2" fill="#ff4a22"/>
<rect x="674.98" y="93.94" width="2" height="2" fill="#ff4a22"/>
<rect x="672.22" y="90.49" width="2" height="2" fill="#ff4a22"/>
<rect x="671.02" y="97.37" width="2" height="2" fill="#ff4a22"/>
<rect x="671.91" y="97.62" width="2" height="2" fill="#ff4a22"/>
<rect x="672.66" y="95.62" width="2" height="2" fill="#ff4a22"/>
<rect x="676.06" y="96.03" width="2" height="2" fill="#ff4a22"/>
<rect x="673.83" y="101.20" width="2" height="2" fill="#ff4a22"/>
<rect x="671.56" y="91.58" width="2" height="2" fill="#ff4a22"/>
<rect x="675.77" y="100.54" width="2" height="2" fill="#ff4a22"/>
<rect x="671.95" y="92.06" width="2" height="2" fill="#ff4a22"/>
<rect x="674.79" y="102.20" width="2" height="2" fill="#ff4a22"/>
<rect x="671.64" y="102.33" width="2" height="2" fill="#ff4a22"/>
<rect x="670.85" y="66.35" width="1.9" height="1.9" fill="#10c8f0"/>
<rect x="674.55" y="78.55" width="1.9" height="1.9" fill="#1e90f0"/>
<rect x="671.05" y="83.05" width="1.9" height="1.9" fill="#10c8f0"/>
<rect x="676.05" y="90.55" width="1.9" height="1.9" fill="#ff9448"/>
<rect x="677.05" y="100.55" width="1.9" height="1.9" fill="#ff9448"/>
<rect x="678.55" y="103.25" width="1.9" height="1.9" fill="#ff9448"/>
<rect x="676.55" y="107.25" width="1.9" height="1.9" fill="#ff9448"/>
<rect x="669.05" y="93.55" width="1.9" height="1.9" fill="#8cf8a0"/>
<rect x="669.35" y="97.05" width="1.9" height="1.9" fill="#8cf8a0"/>
<rect x="670.05" y="103.05" width="1.9" height="1.9" fill="#8cf8a0"/>
<rect x="668.55" y="109.45" width="1.9" height="1.9" fill="#1e90f0"/>
<rect x="669.05" y="113.65" width="1.9" height="1.9" fill="#1e90f0"/>
<rect x="673.15" y="112.45" width="1.9" height="1.9" fill="#10c8f0"/>
<rect x="671.75" y="109.95" width="1.9" height="1.9" fill="#ff4a22"/>
<rect x="672.85" y="109.05" width="1.9" height="1.9" fill="#8cf8a0"/>
<rect x="672.25" y="120.25" width="1.9" height="1.9" fill="#8cf8a0"/>
<rect x="670.85" y="123.05" width="1.9" height="1.9" fill="#8010ff"/>
<rect x="675.05" y="104.55" width="1.9" height="1.9" fill="#ff9448"/>
<rect x="742.00" y="73.30" width="2" height="2" fill="#8cf8a0"/>
<rect x="741.50" y="78.00" width="2" height="2" fill="#dcc466"/>
<rect x="744.00" y="79.00" width="2" height="2" fill="#dcc466"/>
<rect x="745.50" y="80.50" width="2" height="2" fill="#8cf8a0"/>
<rect x="742.00" y="81.50" width="2" height="2" fill="#dcc466"/>
<rect x="743.80" y="82.50" width="2" height="2" fill="#8cf8a0"/>
<rect x="740.80" y="84.00" width="2" height="2" fill="#dcc466"/>
<rect x="743.00" y="86.20" width="2" height="2" fill="#ff9448"/>
<rect x="744.40" y="87.80" width="2" height="2" fill="#ff9448"/>
<rect x="742.00" y="89.20" width="2" height="2" fill="#dcc466"/>
<rect x="743.50" y="89.50" width="2" height="2" fill="#dcc466"/>
<rect x="741.40" y="91.60" width="2" height="2" fill="#dcc466"/>
<rect x="738.70" y="94.90" width="2" height="2" fill="#ff9448"/>
<rect x="739.90" y="97.90" width="2" height="2" fill="#dcc466"/>
<rect x="741.10" y="102.10" width="2" height="2" fill="#dcc466"/>
<rect x="741.00" y="79.50" width="2" height="2" fill="#8cf8a0"/>
<rect x="744.50" y="77.50" width="2" height="2" fill="#dcc466"/>
<rect x="242" y="54" width="620" height="102.5" fill="none" stroke="#000" stroke-width="2"/>
<line x1="241" y1="157" x2="863" y2="157" stroke="#000" stroke-width="3"/>
<line x1="752" y1="54" x2="752" y2="653" stroke="#000" stroke-width="3"/>
<line x1="789.5" y1="158" x2="789.5" y2="652" stroke="#777" stroke-width="1.2"/>
<line x1="825.5" y1="158" x2="825.5" y2="652" stroke="#777" stroke-width="1.2"/>
<line x1="862" y1="157" x2="862" y2="654" stroke="#000" stroke-width="2"/>
<line x1="752" y1="653" x2="863" y2="653" stroke="#000" stroke-width="2"/>
<polygon points="771.0,424.8 775.0,422.6 781.0,423.0 790.0,424.2 800.3,424.8 800.3,428.0 790.0,428.8 778.0,428.5 771.3,427.6" fill="#1e90f0" opacity="1"/>
<polygon points="797.0,425.5 803.0,424.6 812.0,424.3 815.8,425.5 815.5,427.3 806.0,428.0 797.0,428.0" fill="#ff9448" opacity="1"/>
<rect x="751.90" y="423.60" width="1.8" height="1.8" fill="#1e90f0"/>
<rect x="753.60" y="425.30" width="1.8" height="1.8" fill="#1e90f0"/>
<rect x="756.70" y="426.60" width="1.8" height="1.8" fill="#8010ff"/>
<rect x="760.10" y="425.10" width="1.8" height="1.8" fill="#1e90f0"/>
<rect x="761.60" y="425.90" width="1.8" height="1.8" fill="#1e90f0"/>
<rect x="765.10" y="425.10" width="1.8" height="1.8" fill="#8010ff"/>
<rect x="768.90" y="424.70" width="1.8" height="1.8" fill="#8010ff"/>
<rect x="783.10" y="422.10" width="1.8" height="1.8" fill="#8010ff"/>
<rect x="791.10" y="422.70" width="1.8" height="1.8" fill="#8010ff"/>
<rect x="794.10" y="427.60" width="1.8" height="1.8" fill="#8010ff"/>
<rect x="816.47" y="340.29" width="2" height="2" fill="#ff4a22"/>
<rect x="810.48" y="337.74" width="2" height="2" fill="#ff4a22"/>
<rect x="805.50" y="341.36" width="2" height="2" fill="#ff4a22"/>
<rect x="808.10" y="340.33" width="2" height="2" fill="#ff4a22"/>
<rect x="808.34" y="340.87" width="2" height="2" fill="#ff4a22"/>
<rect x="812.75" y="338.71" width="2" height="2" fill="#ff4a22"/>
<rect x="807.28" y="340.36" width="2" height="2" fill="#ff4a22"/>
<rect x="805.89" y="338.07" width="2" height="2" fill="#ff4a22"/>
<rect x="812.27" y="341.20" width="2" height="2" fill="#ff4a22"/>
<rect x="812.99" y="338.66" width="2" height="2" fill="#ff4a22"/>
<rect x="816.93" y="338.51" width="2" height="2" fill="#ff4a22"/>
<rect x="805.22" y="338.22" width="2" height="2" fill="#ff4a22"/>
<rect x="810.79" y="337.56" width="2" height="2" fill="#ff4a22"/>
<rect x="807.29" y="338.77" width="2" height="2" fill="#ff4a22"/>
<rect x="812.44" y="337.96" width="2" height="2" fill="#ff4a22"/>
<rect x="809.71" y="341.24" width="2" height="2" fill="#ff4a22"/>
<rect x="833.45" y="341.50" width="2" height="2" fill="#8cf8a0"/>
<rect x="825.35" y="340.81" width="2" height="2" fill="#8cf8a0"/>
<rect x="809.93" y="337.84" width="2" height="2" fill="#8cf8a0"/>
<rect x="806.50" y="341.17" width="2" height="2" fill="#8cf8a0"/>
<rect x="825.63" y="342.33" width="2" height="2" fill="#8cf8a0"/>
<rect x="806.60" y="340.07" width="2" height="2" fill="#8cf8a0"/>
<rect x="819.50" y="341.10" width="2" height="2" fill="#8cf8a0"/>
<rect x="814.93" y="341.94" width="2" height="2" fill="#8cf8a0"/>
<rect x="808.11" y="339.79" width="2" height="2" fill="#8cf8a0"/>
<rect x="826.64" y="342.13" width="2" height="2" fill="#8cf8a0"/>
<rect x="826.64" y="341.35" width="2" height="2" fill="#8cf8a0"/>
<rect x="828.21" y="342.27" width="2" height="2" fill="#8cf8a0"/>
<rect x="815.85" y="340.73" width="2" height="2" fill="#8cf8a0"/>
<rect x="831.22" y="342.25" width="2" height="2" fill="#8cf8a0"/>
<rect x="817.68" y="341.25" width="2" height="2" fill="#8cf8a0"/>
<rect x="830.18" y="341.00" width="2" height="2" fill="#8cf8a0"/>
<rect x="823.50" y="339.90" width="2" height="2" fill="#8cf8a0"/>
<rect x="822.32" y="340.75" width="2" height="2" fill="#8cf8a0"/>
<rect x="808.25" y="340.17" width="2" height="2" fill="#8cf8a0"/>
<rect x="833.81" y="342.41" width="2" height="2" fill="#8cf8a0"/>
<rect x="826.39" y="340.07" width="2" height="2" fill="#8cf8a0"/>
<rect x="826.58" y="340.85" width="2" height="2" fill="#8cf8a0"/>
<rect x="818.33" y="341.47" width="2" height="2" fill="#8cf8a0"/>
<rect x="808.35" y="340.62" width="2" height="2" fill="#8cf8a0"/>
<rect x="806.83" y="339.95" width="2" height="2" fill="#8cf8a0"/>
<rect x="819.47" y="339.09" width="2" height="2" fill="#8cf8a0"/>
<rect x="825.55" y="340.47" width="2" height="2" fill="#8cf8a0"/>
<rect x="823.21" y="342.04" width="2" height="2" fill="#8cf8a0"/>
<rect x="809.56" y="337.67" width="2" height="2" fill="#ff4a22"/>
<rect x="810.01" y="340.02" width="2" height="2" fill="#ff4a22"/>
<rect x="809.03" y="338.19" width="2" height="2" fill="#ff4a22"/>
<rect x="816.06" y="340.26" width="2" height="2" fill="#ff4a22"/>
<rect x="811.42" y="340.84" width="2" height="2" fill="#ff4a22"/>
<rect x="810.27" y="339.99" width="2" height="2" fill="#ff4a22"/>
<rect x="808.99" y="339.11" width="2" height="2" fill="#ff4a22"/>
<rect x="815.06" y="341.10" width="2" height="2" fill="#ff4a22"/>
<rect x="832.92" y="338.97" width="2" height="2" fill="#10c8f0"/>
<rect x="830.25" y="338.83" width="2" height="2" fill="#10c8f0"/>
<rect x="826.23" y="339.19" width="2" height="2" fill="#10c8f0"/>
<rect x="832.53" y="339.90" width="2" height="2" fill="#10c8f0"/>
<rect x="831.40" y="340.10" width="2" height="2" fill="#10c8f0"/>
<rect x="827.49" y="338.54" width="2" height="2" fill="#10c8f0"/>
<rect x="829.06" y="338.75" width="2" height="2" fill="#10c8f0"/>
<rect x="826.93" y="339.03" width="2" height="2" fill="#10c8f0"/>
<rect x="830.63" y="339.19" width="2" height="2" fill="#10c8f0"/>
<rect x="827.84" y="339.88" width="2" height="2" fill="#10c8f0"/>
<rect x="833.75" y="347.88" width="2" height="2" fill="#dcc466"/>
<rect x="821.05" y="346.41" width="2" height="2" fill="#dcc466"/>
<rect x="832.22" y="346.45" width="2" height="2" fill="#dcc466"/>
<rect x="829.92" y="348.30" width="2" height="2" fill="#dcc466"/>
<rect x="824.33" y="349.07" width="2" height="2" fill="#dcc466"/>
<rect x="820.27" y="346.78" width="2" height="2" fill="#dcc466"/>
<rect x="826.37" y="346.39" width="2" height="2" fill="#dcc466"/>
<rect x="831.62" y="347.13" width="2" height="2" fill="#dcc466"/>
<rect x="821.97" y="346.46" width="2" height="2" fill="#dcc466"/>
<rect x="828.81" y="347.86" width="2" height="2" fill="#dcc466"/>
<rect x="828.82" y="348.59" width="2" height="2" fill="#dcc466"/>
<rect x="831.30" y="349.65" width="2" height="2" fill="#dcc466"/>
<rect x="829.58" y="347.00" width="2" height="2" fill="#dcc466"/>
<rect x="826.65" y="346.93" width="2" height="2" fill="#dcc466"/>
<rect x="820.08" y="344.21" width="2" height="2" fill="#ff9448"/>
<rect x="825.00" y="343.77" width="2" height="2" fill="#ff9448"/>
<rect x="821.91" y="344.02" width="2" height="2" fill="#ff9448"/>
<rect x="824.88" y="344.28" width="2" height="2" fill="#ff9448"/>
<rect x="824.30" y="344.63" width="2" height="2" fill="#ff9448"/>
<rect x="785.90" y="333.90" width="2" height="2" fill="#8010ff"/>
<rect x="788.50" y="338.10" width="2" height="2" fill="#8cf8a0"/>
<rect x="795.40" y="336.20" width="2" height="2" fill="#1e90f0"/>
<rect x="800.00" y="336.60" width="2" height="2" fill="#1e90f0"/>
<rect x="796.90" y="338.90" width="2" height="2" fill="#10c8f0"/>
<rect x="799.20" y="338.10" width="2" height="2" fill="#8cf8a0"/>
<rect x="801.90" y="338.90" width="2" height="2" fill="#ff9448"/>
<rect x="804.10" y="336.60" width="2" height="2" fill="#ff9448"/>
<rect x="798.80" y="341.90" width="2" height="2" fill="#ff4a22"/>
<rect x="807.20" y="345.30" width="2" height="2" fill="#dcc466"/>
<rect x="811.80" y="344.20" width="2" height="2" fill="#dcc466"/>
<rect x="818.60" y="346.90" width="2" height="2" fill="#dcc466"/>
<rect x="844.90" y="338.10" width="2" height="2" fill="#10c8f0"/>
<rect x="837.70" y="347.60" width="2" height="2" fill="#8cf8a0"/>
<rect x="823.00" y="344.20" width="2" height="2" fill="#ff9448"/>
<rect x="825.00" y="344.20" width="2" height="2" fill="#ff9448"/>
<rect x="804.00" y="335.80" width="2" height="2" fill="#ff9448"/>
<rect x="809.00" y="343.30" width="2" height="2" fill="#ff4a22"/>
<text x="219.60" y="52.00" font-size="11.4" textLength="11.00" lengthAdjust="spacingAndGlyphs" fill="#000">15</text>
<text x="219.60" y="87.00" font-size="11.4" textLength="11.00" lengthAdjust="spacingAndGlyphs" fill="#000">10</text>
<text x="220.30" y="122.10" font-size="11.4" textLength="5.91" lengthAdjust="spacingAndGlyphs" fill="#000">5</text>
<text x="220.30" y="157.10" font-size="11.4" textLength="5.91" lengthAdjust="spacingAndGlyphs" fill="#000">0</text>
<text x="186.70" y="104.80" font-size="11.4" textLength="17.80" lengthAdjust="spacingAndGlyphs" fill="#000">Km</text>
<text x="209.50" y="654.80" font-size="11.4" textLength="24.29" lengthAdjust="spacingAndGlyphs" fill="#000">40°N</text>
<text x="199.50" y="607.70" font-size="11.4" textLength="34.31" lengthAdjust="spacingAndGlyphs" fill="#000">40.5°N</text>
<text x="209.50" y="558.80" font-size="11.4" textLength="24.29" lengthAdjust="spacingAndGlyphs" fill="#000">41°N</text>
<text x="199.50" y="510.30" font-size="11.4" textLength="34.31" lengthAdjust="spacingAndGlyphs" fill="#000">41.5°N</text>
<text x="209.50" y="462.00" font-size="11.4" textLength="24.29" lengthAdjust="spacingAndGlyphs" fill="#000">42°N</text>
<text x="199.50" y="411.90" font-size="11.4" textLength="34.31" lengthAdjust="spacingAndGlyphs" fill="#000">42.5°N</text>
<text x="209.50" y="362.90" font-size="11.4" textLength="24.29" lengthAdjust="spacingAndGlyphs" fill="#000">43°N</text>
<text x="199.50" y="311.70" font-size="11.4" textLength="34.31" lengthAdjust="spacingAndGlyphs" fill="#000">43.5°N</text>
<text x="209.50" y="261.70" font-size="11.4" textLength="24.29" lengthAdjust="spacingAndGlyphs" fill="#000">44°N</text>
<text x="199.50" y="210.90" font-size="11.4" textLength="34.31" lengthAdjust="spacingAndGlyphs" fill="#000">44.5°N</text>
<text x="233.55" y="666.80" font-size="11.4" textLength="16.51" lengthAdjust="spacingAndGlyphs" fill="#000">5°E</text>
<text x="264.95" y="666.80" font-size="11.4" textLength="26.70" lengthAdjust="spacingAndGlyphs" fill="#000">5.5°E</text>
<text x="306.55" y="666.80" font-size="11.4" textLength="16.51" lengthAdjust="spacingAndGlyphs" fill="#000">6°E</text>
<text x="337.95" y="666.80" font-size="11.4" textLength="26.70" lengthAdjust="spacingAndGlyphs" fill="#000">6.5°E</text>
<text x="379.55" y="666.80" font-size="11.4" textLength="16.51" lengthAdjust="spacingAndGlyphs" fill="#000">7°E</text>
<text x="410.95" y="666.80" font-size="11.4" textLength="26.70" lengthAdjust="spacingAndGlyphs" fill="#000">7.5°E</text>
<text x="452.55" y="666.80" font-size="11.4" textLength="16.51" lengthAdjust="spacingAndGlyphs" fill="#000">8°E</text>
<text x="483.95" y="666.80" font-size="11.4" textLength="26.70" lengthAdjust="spacingAndGlyphs" fill="#000">8.5°E</text>
<text x="525.55" y="666.80" font-size="11.4" textLength="16.51" lengthAdjust="spacingAndGlyphs" fill="#000">9°E</text>
<text x="556.95" y="666.80" font-size="11.4" textLength="26.70" lengthAdjust="spacingAndGlyphs" fill="#000">9.5°E</text>
<text x="594.50" y="666.80" font-size="11.4" textLength="22.99" lengthAdjust="spacingAndGlyphs" fill="#000">10°E</text>
<text x="625.90" y="666.80" font-size="11.4" textLength="33.21" lengthAdjust="spacingAndGlyphs" fill="#000">10.5°E</text>
<text x="667.50" y="666.80" font-size="11.4" textLength="23.00" lengthAdjust="spacingAndGlyphs" fill="#000">11°E</text>
<text x="698.90" y="666.80" font-size="11.4" textLength="33.19" lengthAdjust="spacingAndGlyphs" fill="#000">11.5°E</text>
<text x="753.10" y="666.90" font-size="11.4" textLength="6.01" lengthAdjust="spacingAndGlyphs" fill="#000">0</text>
<text x="789.10" y="666.90" font-size="11.4" textLength="6.01" lengthAdjust="spacingAndGlyphs" fill="#000">5</text>
<text x="825.10" y="666.90" font-size="11.4" textLength="12.10" lengthAdjust="spacingAndGlyphs" fill="#000">10</text>
<text x="862.00" y="666.90" font-size="11.4" textLength="11.50" lengthAdjust="spacingAndGlyphs" fill="#000">15</text>
<text x="807.70" y="675.50" font-size="11.4" textLength="17.80" lengthAdjust="spacingAndGlyphs" fill="#000">Km</text>
<text x="769.60" y="83.80" font-size="11" textLength="5.81" lengthAdjust="spacingAndGlyphs" fill="#000">6</text>
<rect x="783.73" y="78.72" width="1.35" height="1.35" fill="#000"/>
<rect x="783.73" y="82.72" width="1.35" height="1.35" fill="#000"/>
<text x="802.70" y="83.80" font-size="11" textLength="25.50" lengthAdjust="spacingAndGlyphs" fill="#000">2320</text>
<text x="769.60" y="93.80" font-size="11" textLength="5.81" lengthAdjust="spacingAndGlyphs" fill="#ff0000">7</text>
<rect x="783.73" y="88.72" width="1.35" height="1.35" fill="#ff0000"/>
<rect x="783.73" y="92.72" width="1.35" height="1.35" fill="#ff0000"/>
<text x="806.40" y="93.80" font-size="11" textLength="18.71" lengthAdjust="spacingAndGlyphs" fill="#ff0000">987</text>
<text x="769.60" y="104.90" font-size="11" textLength="5.81" lengthAdjust="spacingAndGlyphs" fill="#000">8</text>
<rect x="783.73" y="99.83" width="1.35" height="1.35" fill="#000"/>
<rect x="783.73" y="103.83" width="1.35" height="1.35" fill="#000"/>
<text x="806.40" y="104.90" font-size="11" textLength="18.71" lengthAdjust="spacingAndGlyphs" fill="#000">415</text>
<text x="769.60" y="115.00" font-size="11" textLength="5.81" lengthAdjust="spacingAndGlyphs" fill="#000">9</text>
<rect x="783.73" y="109.92" width="1.35" height="1.35" fill="#000"/>
<rect x="783.73" y="113.92" width="1.35" height="1.35" fill="#000"/>
<text x="806.40" y="115.00" font-size="11" textLength="18.71" lengthAdjust="spacingAndGlyphs" fill="#000">165</text>
<text x="767.00" y="125.90" font-size="11" textLength="12.10" lengthAdjust="spacingAndGlyphs" fill="#000">10</text>
<rect x="787.33" y="120.83" width="1.35" height="1.35" fill="#000"/>
<rect x="787.33" y="124.83" width="1.35" height="1.35" fill="#000"/>
<text x="812.90" y="125.90" font-size="11" textLength="12.20" lengthAdjust="spacingAndGlyphs" fill="#000">83</text>
<text x="767.00" y="135.90" font-size="11" textLength="12.11" lengthAdjust="spacingAndGlyphs" fill="#000">11</text>
<rect x="787.33" y="130.82" width="1.35" height="1.35" fill="#000"/>
<rect x="787.33" y="134.82" width="1.35" height="1.35" fill="#000"/>
<text x="812.90" y="135.90" font-size="11" textLength="12.20" lengthAdjust="spacingAndGlyphs" fill="#000">35</text>
<text x="767.00" y="146.10" font-size="11" textLength="12.10" lengthAdjust="spacingAndGlyphs" fill="#000">12</text>
<rect x="787.33" y="141.02" width="1.35" height="1.35" fill="#000"/>
<rect x="787.33" y="145.02" width="1.35" height="1.35" fill="#000"/>
<text x="812.90" y="146.10" font-size="11" textLength="12.20" lengthAdjust="spacingAndGlyphs" fill="#000">15</text>
<text x="300.90" y="46.00" font-size="24.1" textLength="86.81" lengthAdjust="spacingAndGlyphs" fill="#000">SAETTA</text>
<text x="398.00" y="46.00" font-size="24.1" textLength="102.68" lengthAdjust="spacingAndGlyphs" fill="#000">Lightning</text>
<text x="512.00" y="46.00" font-size="24.1" textLength="94.03" lengthAdjust="spacingAndGlyphs" fill="#000">Mapping</text>
<text x="616.00" y="46.00" font-size="24.1" textLength="59.98" lengthAdjust="spacingAndGlyphs" fill="#000">Array</text>
<text x="686.00" y="46.00" font-size="24.1" textLength="7.01" lengthAdjust="spacingAndGlyphs" fill="#000">-</text>
<text x="703.00" y="46.00" font-size="24.1" textLength="98.51" lengthAdjust="spacingAndGlyphs" fill="#000">16/07/28</text>
<rect x="158.5" y="690.5" width="787" height="38" fill="url(#cbar)" stroke="#000" stroke-width="1"/>
<line x1="158.5" y1="728.5" x2="158.5" y2="732.5" stroke="#000" stroke-width="1"/>
<text x="155.05" y="743.10" font-size="11.4" textLength="6.51" lengthAdjust="spacingAndGlyphs" fill="#000">0</text>
<line x1="315.9" y1="728.5" x2="315.9" y2="732.5" stroke="#000" stroke-width="1"/>
<text x="312.45" y="743.10" font-size="11.4" textLength="6.51" lengthAdjust="spacingAndGlyphs" fill="#000">2</text>
<line x1="473.3" y1="728.5" x2="473.3" y2="732.5" stroke="#000" stroke-width="1"/>
<text x="469.85" y="743.10" font-size="11.4" textLength="6.51" lengthAdjust="spacingAndGlyphs" fill="#000">4</text>
<line x1="630.7" y1="728.5" x2="630.7" y2="732.5" stroke="#000" stroke-width="1"/>
<text x="627.25" y="743.10" font-size="11.4" textLength="6.51" lengthAdjust="spacingAndGlyphs" fill="#000">6</text>
<line x1="788.1" y1="728.5" x2="788.1" y2="732.5" stroke="#000" stroke-width="1"/>
<text x="784.65" y="743.10" font-size="11.4" textLength="6.51" lengthAdjust="spacingAndGlyphs" fill="#000">8</text>
<line x1="945.5" y1="728.5" x2="945.5" y2="732.5" stroke="#000" stroke-width="1"/>
<text x="939.70" y="743.10" font-size="11.4" textLength="11.20" lengthAdjust="spacingAndGlyphs" fill="#000">10</text>
<text x="433.70" y="719.10" font-size="21.6" textLength="42.00" lengthAdjust="spacingAndGlyphs" fill="#000">from</text>
<text x="484.30" y="719.10" font-size="21.6" textLength="81.40" lengthAdjust="spacingAndGlyphs" fill="#000">12:30:00</text>
<text x="573.70" y="719.10" font-size="21.6" textLength="17.28" lengthAdjust="spacingAndGlyphs" fill="#000">to</text>
<text x="599.70" y="719.10" font-size="21.6" textLength="81.30" lengthAdjust="spacingAndGlyphs" fill="#000">12:39:59</text>
</svg></body></html>
